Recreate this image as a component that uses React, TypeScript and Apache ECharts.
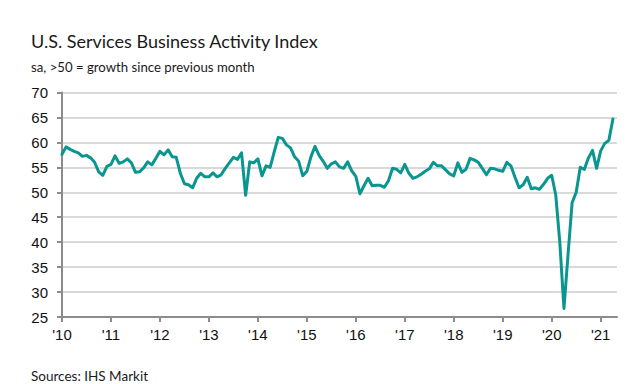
import React, { useEffect, useRef } from "react";
import * as echarts from "echarts";

const v2010 = [57.6, 59.1, 58.6, 58.2, 57.9, 57.2, 57.4, 56.9, 56.0, 54.1, 53.4, 55.2];
const v2011 = [55.6, 57.3, 55.8, 56.1, 56.7, 55.9, 54.0, 54.1, 54.9, 56.1, 55.5, 56.8];
const v2012 = [58.2, 57.5, 58.5, 57.1, 57.0, 53.8, 51.7, 51.5, 50.9, 52.8, 53.8, 53.1];
const v2013 = [53.1, 53.9, 53.1, 53.5, 54.8, 55.9, 57.0, 56.6, 57.9, 49.4, 56.1, 55.9];
const v2014 = [56.7, 53.3, 55.3, 55.0, 58.1, 61.0, 60.8, 59.5, 58.9, 57.1, 56.2, 53.3];
const v2015 = [54.2, 57.1, 59.2, 57.4, 56.2, 54.8, 55.7, 56.1, 55.1, 54.8, 56.1, 54.3];
const v2016 = [53.2, 49.7, 51.3, 52.8, 51.3, 51.4, 51.4, 51.0, 52.3, 54.8, 54.6, 53.9];
const v2017 = [55.6, 53.8, 52.8, 53.1, 53.6, 54.2, 54.7, 56.0, 55.3, 55.3, 54.5, 53.7];
const v2018 = [53.3, 55.9, 54.0, 54.6, 56.8, 56.5, 56.0, 54.8, 53.5, 54.8, 54.7, 54.4];
const v2019 = [54.2, 56.0, 55.3, 53.0, 50.9, 51.5, 53.0, 50.7, 50.9, 50.6, 51.6, 52.8];
const v2020 = [53.4, 49.4, 39.8, 26.7, 37.5, 47.9, 50.0, 55.0, 54.6, 56.9, 58.4, 54.8];
const v2021 = [58.3, 59.8, 60.4, 64.7];

const yearLabels = ["'10", "'11", "'12", "'13", "'14", "'15", "'16", "'17", "'18", "'19", "'20", "'21"];
const months = ["Jan", "Feb", "Mar", "Apr", "May", "Jun", "Jul", "Aug", "Sep", "Oct", "Nov", "Dec"];

const values = [
  ...v2010, ...v2011, ...v2012, ...v2013, ...v2014, ...v2015,
  ...v2016, ...v2017, ...v2018, ...v2019, ...v2020, ...v2021,
];

// categories: Jan 2010 .. May 2021 (axis runs one month beyond the last value)
const categories: string[] = [];
for (let y = 2010; y <= 2021; y++) {
  for (let m = 0; m < 12; m++) {
    if (y === 2021 && m > 4) break;
    categories.push(months[m] + " " + y);
  }
}

export default function App() {
  const ref = useRef<HTMLDivElement>(null);
  useEffect(() => {
    if (!ref.current) return;
    const chart = echarts.init(ref.current, null, { renderer: "svg" });
    chart.setOption({
      animation: false,
      backgroundColor: "#ffffff",
      title: [
        {
          text: "U.S. Services Business Activity Index",
          left: 26,
          top: 27,
          textStyle: { fontFamily: "Lato", fontSize: 18, fontWeight: "normal", color: "#1a1a1a" },
        },
        {
          text: "sa, >50 = growth since previous month",
          left: 26,
          top: 55,
          textStyle: { fontFamily: "Lato", fontSize: 13.2, fontWeight: "normal", color: "#1a1a1a" },
        },
        {
          text: "Sources: IHS Markit",
          left: 26,
          top: 363,
          textStyle: { fontFamily: "Lato", fontSize: 13.5, lineHeight: 16, fontWeight: "normal", color: "#1a1a1a" },
        },
      ],
      grid: { left: 62, right: 23, top: 92.5, bottom: 67, containLabel: false },
      xAxis: {
        type: "category",
        data: categories,
        boundaryGap: false,
        axisLine: { show: true, lineStyle: { color: "#8c8c8c", width: 2 } },
        axisTick: {
          show: true,
          length: 5,
          interval: (i: number) => i % 12 === 0,
          lineStyle: { color: "#8c8c8c", width: 2 },
        },
        axisLabel: {
          interval: (i: number) => i % 12 === 0,
          formatter: (_v: string, i: number) => yearLabels[Math.floor(i / 12)] || "",
          fontFamily: "Liberation Sans",
          fontSize: 15,
          color: "#111",
          margin: 10,
        },
        splitLine: { show: false },
      },
      yAxis: {
        type: "value",
        min: 25,
        max: 70,
        interval: 5,
        axisLine: { show: true, lineStyle: { color: "#8c8c8c", width: 2 } },
        axisTick: { show: true, length: 5, lineStyle: { color: "#8c8c8c", width: 2 } },
        axisLabel: { fontFamily: "Liberation Sans", fontSize: 15, color: "#111", margin: 14 },
        splitLine: { show: true, lineStyle: { color: "#d9d9d9", width: 2 } },
      },
      series: [
        {
          type: "line",
          data: values,
          showSymbol: false,
          symbol: "none",
          lineStyle: { color: "#0a9690", width: 3, join: "round", cap: "round" },
        },
      ],
    });
    return () => chart.dispose();
  }, []);
  return (
    <div
      ref={ref}
      style={{ position: "fixed", left: 0, top: 0, width: 640, height: 384 }}
    />
  );
}
